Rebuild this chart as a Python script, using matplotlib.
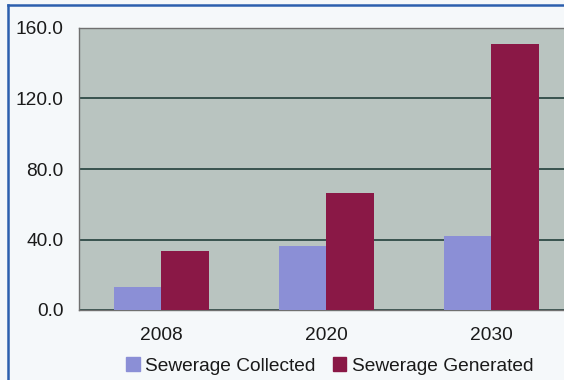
import matplotlib
matplotlib.use('Agg')
import matplotlib.pyplot as plt
import numpy as np
from matplotlib.lines import Line2D
from matplotlib.patches import Patch

# Data
years = ['2008', '2020', '2030']
collected = [13.0, 36.3, 42.0]
generated = [33.5, 66.4, 150.9]
yticks = [0, 40, 80, 120, 160]

plt.rcParams['font.family'] = ['Liberation Sans', 'DejaVu Sans']

fig = plt.figure(figsize=(5.64, 3.80), dpi=100)
fig.patch.set_facecolor('#f5f8fa')

# axes placed to match the cropped scan (plot runs off the right edge)
ax = fig.add_axes([79 / 564, 70 / 380, 485 / 564, 282 / 380])
ax.set_facecolor('#b9c4c0')

x = np.arange(len(years))
w = 0.29
ax.bar(x - w / 2, collected, w, color='#8b8fd6', label='Sewerage Collected', zorder=3)
ax.bar(x + w / 2, generated, w, color='#8a1846', label='Sewerage Generated', zorder=3)

ax.set_ylim(0, 160)
ax.set_xlim(-0.5, 2.44)
ax.set_yticks(yticks)
ax.set_yticklabels([f'{v:.1f}' for v in yticks])
ax.set_xticks(x)
ax.set_xticklabels(years)
ax.tick_params(length=0, labelsize=13.8, colors='#1a1a1a')
ax.tick_params(axis='y', pad=11)
ax.tick_params(axis='x', pad=12)
ax.yaxis.grid(True, color='#2e4a46', linewidth=1.3, zorder=1)
for s in ['left', 'bottom', 'top']:
    ax.spines[s].set_color('#707070')
    ax.spines[s].set_linewidth(1.0)
ax.spines['right'].set_visible(False)

handles = [Patch(color='#8b8fd6'), Patch(color='#8a1846')]
fig.legend(handles, ['Sewerage Collected', 'Sewerage Generated'],
           loc='center', bbox_to_anchor=(330 / 564, 1 - 366 / 380), ncol=2,
           frameon=False, fontsize=13.8, handlelength=0.7, handleheight=0.7,
           handletextpad=0.3, columnspacing=0.9, labelcolor='#1a1a1a')

# blue frame of the page box
fig.add_artist(Line2D([8 / 564, 8 / 564], [0, 1 - 5 / 380], color='#2c5fae', lw=1.8))
fig.add_artist(Line2D([8 / 564, 1], [1 - 5 / 380, 1 - 5 / 380], color='#2c5fae', lw=1.8))

fig.savefig('out.png', dpi=100, facecolor=fig.get_facecolor())
